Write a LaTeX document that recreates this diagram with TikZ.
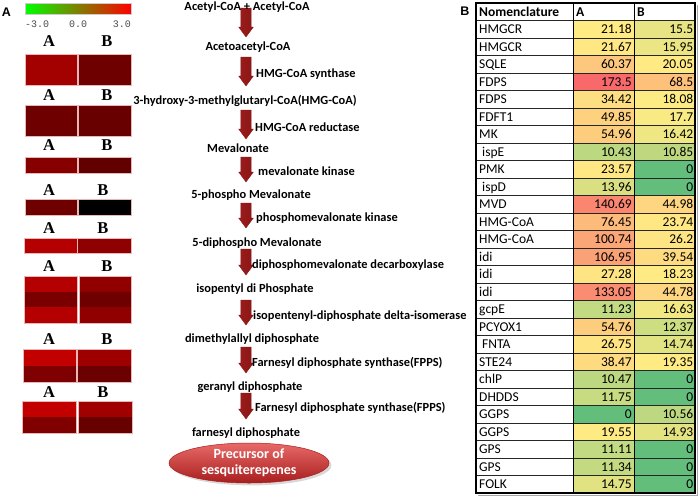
\documentclass[tikz,border=0pt]{standalone}
\usepackage{fontspec}
\setmainfont{Carlito}
\newfontfamily\tnr{Liberation Serif}
\newfontfamily\monof{Liberation Mono}
\newfontfamily\arial{Liberation Sans}
\usetikzlibrary{shapes.geometric,shadows,calc}

\definecolor{hmgrn}{HTML}{63BE7B}
\definecolor{hmyel}{HTML}{FFEB84}
\definecolor{hmred}{HTML}{F8696B}
\definecolor{arrdk}{HTML}{9C1C1C}
\definecolor{arrlt}{HTML}{D64C4A}
\definecolor{arrdk2}{HTML}{8A1616}
\definecolor{elltop}{HTML}{E86A68}
\definecolor{ellbot}{HTML}{A81E1E}
\definecolor{cellbd}{HTML}{E8B8B8}

\newcommand\heatcol[2]{%
  \pgfmathtruncatemacro\hb{#2<=18.15 ? 1 : 0}%
  \ifnum\hb=1
    \pgfmathtruncatemacro\hp{100*#2/18.15}%
    \colorlet{#1}{hmyel!\hp!hmgrn}%
  \else
    \pgfmathtruncatemacro\hp{100*(#2-18.15)/155.35}%
    \colorlet{#1}{hmred!\hp!hmyel}%
  \fi}

\newcommand\patharrow[3]{%
  \coordinate (#1t) at (246,#2);
  \coordinate (#1b) at (246,#3);
  \shade[left color=arrdk, middle color=arrlt, right color=arrdk2, draw=arrdk2, line width=0.3pt]
    ($(#1t)+(-5.2,0)$) -- ($(#1t)+(5.2,0)$) -- ($(#1b)+(5.2,-10)$) -- ($(#1b)+(7.4,-10)$)
    -- (#1b) -- ($(#1b)+(-7.4,-10)$) -- ($(#1b)+(-5.2,-10)$) -- cycle;}

\begin{document}
\begin{tikzpicture}[x=1pt,y=-1pt,
  met/.style={font=\bfseries\fontsize{12.4}{14}\selectfont, inner sep=0pt, anchor=base},
  enz/.style={font=\bfseries\fontsize{12.4}{14}\selectfont, inner sep=0pt, anchor=base west},
  hl/.style={font=\tnr\bfseries\fontsize{16.5}{18}\selectfont, inner sep=0pt},
  tcell/.style={font=\fontsize{13.5}{15}\selectfont, inner sep=0pt},
  thead/.style={font=\bfseries\fontsize{13.5}{15}\selectfont, inner sep=0pt, anchor=base west},
  hcell/.style={draw=cellbd, line width=0.6pt},
  panel/.style={font=\arial\bfseries\fontsize{12.5}{14}\selectfont, inner sep=0pt}]
\useasboundingbox (0,0) rectangle (700,498);
\fill[white] (0,0) rectangle (700,498);

% panel labels
\node[panel] (pA) at (6.5,12.5) {A};
\node[panel] (pB) at (465,11.5) {B};

% colour bar
\shade[left color={rgb,255:red,0;green,255;blue,0}, middle color=black, right color={rgb,255:red,255;green,0;blue,0}, draw=gray!40, line width=0.4pt] (25,3) rectangle (131,14);
\node[font=\monof\fontsize{10}{11}\selectfont, text=black!70, inner sep=0pt, anchor=west] (cb1) at (25,24) {-3.0};
\node[font=\monof\fontsize{10}{11}\selectfont, text=black!70, inner sep=0pt] (cb2) at (78,24) {0.0};
\node[font=\monof\fontsize{10}{11}\selectfont, text=black!70, inner sep=0pt, anchor=east] (cb3) at (131,24) {3.0};

% heat map labels
\foreach \k/\y/\bx in {1/41.5/107,2/95/107,3/145.5/107,4/190.5/103,5/228.5/103,6/266/107,7/339/107,8/392/103}{
  \node[hl] (hA\k) at (49,\y) {A};
  \node[hl] (hB\k) at (\bx,\y) {B};
}

% heat map blocks
\fill[hcell, fill={rgb,255:red,163;green,0;blue,0}] (25,54) rectangle (77,85);
\fill[hcell, fill={rgb,255:red,110;green,0;blue,0}] (78,54) rectangle (131,85);
\fill[hcell, fill={rgb,255:red,110;green,0;blue,0}] (25,105) rectangle (77,136);
\fill[hcell, fill={rgb,255:red,104;green,0;blue,0}] (78,105) rectangle (131,136);
\fill[hcell, fill={rgb,255:red,135;green,0;blue,0}] (25,157) rectangle (77,173);
\fill[hcell, fill={rgb,255:red,98;green,0;blue,0}] (78,157) rectangle (131,173);
\fill[hcell, fill={rgb,255:red,110;green,0;blue,0}] (25,199) rectangle (77,215);
\fill[hcell, fill=black] (78,199) rectangle (131,215);
\fill[hcell, fill={rgb,255:red,180;green,0;blue,0}] (24,238) rectangle (77,253);
\fill[hcell, fill={rgb,255:red,143;green,0;blue,0}] (77,238) rectangle (131,253);
% block 6
\fill[fill={rgb,255:red,180;green,0;blue,0}] (24,276) rectangle (77,292);
\fill[fill={rgb,255:red,122;green,0;blue,0}] (24,292) rectangle (77,307);
\fill[fill={rgb,255:red,180;green,0;blue,0}] (24,307) rectangle (77,323);
\fill[fill={rgb,255:red,144;green,0;blue,0}] (79,276) rectangle (131,292);
\fill[fill={rgb,255:red,110;green,0;blue,0}] (79,292) rectangle (131,307);
\fill[fill={rgb,255:red,144;green,0;blue,0}] (79,307) rectangle (131,323);
\draw[hcell] (24,276) rectangle (77,323) (79,276) rectangle (131,323);
% block 7
\fill[fill={rgb,255:red,194;green,0;blue,0}] (23,349) rectangle (76,365.5);
\fill[fill={rgb,255:red,126;green,0;blue,0}] (23,365.5) rectangle (76,382);
\fill[fill={rgb,255:red,158;green,0;blue,0}] (77,349) rectangle (131,365.5);
\fill[fill={rgb,255:red,106;green,0;blue,0}] (77,365.5) rectangle (131,382);
\draw[hcell] (23,349) rectangle (76,382) (77,349) rectangle (131,382);
% block 8
\fill[fill={rgb,255:red,194;green,0;blue,0}] (22,401) rectangle (76,417);
\fill[fill={rgb,255:red,128;green,0;blue,0}] (22,417) rectangle (76,433);
\fill[fill={rgb,255:red,160;green,0;blue,0}] (78,401) rectangle (132,417);
\fill[fill={rgb,255:red,104;green,0;blue,0}] (78,417) rectangle (132,433);
\draw[hcell] (22,401) rectangle (76,433) (78,401) rectangle (132,433);

% pathway arrows
\patharrow{a1}{8}{37}
\patharrow{a2}{57}{86}
\patharrow{a3}{110}{139}
\patharrow{a4}{157}{182}
\patharrow{a5}{203}{228}
\patharrow{a6}{249}{275}
\patharrow{a7}{300}{325}
\patharrow{a8}{347}{373}
\patharrow{a9}{393}{419}

% metabolites
\node[met] (m1) at (247,10) {Acetyl-CoA + Acetyl-CoA};
\node[met] (m2) at (248,50) {Acetoacetyl-CoA};
\node[met] (m3) at (245,104) {3-hydroxy-3-methylglutaryl-CoA(HMG-CoA)};
\node[met] (m4) at (238,152) {Mevalonate};
\node[met] (m5) at (251,198) {5-phospho Mevalonate};
\node[met] (m6) at (257,246) {5-diphospho Mevalonate};
\node[met] (m7) at (255,292) {isopentyl di Phosphate};
\node[met] (m8) at (252,342) {dimethylallyl diphosphate};
\node[met] (m9) at (250,390) {geranyl diphosphate};
\node[met] (m10) at (246,436) {farnesyl diphosphate};

% enzymes
\node[enz] (e2) at (256,77) {HMG-CoA synthase};
\node[enz] (e3) at (255,131) {HMG-CoA reductase};
\node[enz] (e4) at (258,175) {mevalonate kinase};
\node[enz] (e5) at (256,221) {phosphomevalonate kinase};
\node[enz] (e6) at (252,268) {diphosphomevalonate decarboxylase};
\node[enz] (e7) at (253,319) {isopentenyl-diphosphate delta-isomerase};
\node[enz] (e8) at (252,366) {Farnesyl diphosphate synthase(FPPS)};
\node[enz] (e9) at (255,411) {Farnesyl diphosphate synthase(FPPS)};

% precursor ellipse
\node[ellipse, minimum width=160, minimum height=40, inner sep=0pt, top color=elltop, bottom color=ellbot, draw=ellbot, line width=0.5pt, drop shadow={opacity=0.3}, text=white, align=center, font=\bfseries\fontsize{14}{16}\selectfont] (prec) at (249,463) {Precursor of\\sesquiterepenes};

% table
\foreach [count=\i] \nm/\va/\vb in {HMGCR/21.18/15.5, HMGCR/21.67/15.95, SQLE/60.37/20.05, FDPS/173.5/68.5, FDPS/34.42/18.08, FDFT1/49.85/17.7, MK/54.96/16.42, {\hspace{3pt}ispE}/10.43/10.85, PMK/23.57/0, {\hspace{3pt}ispD}/13.96/0, MVD/140.69/44.98, HMG-CoA/76.45/23.74, HMG-CoA/100.74/26.2, idi/106.95/39.54, idi/27.28/18.23, idi/133.05/44.78, gcpE/11.23/16.63, PCYOX1/54.76/12.37, {\hspace{3pt}FNTA}/26.75/14.74, STE24/38.47/19.35, chlP/10.47/0, DHDDS/11.75/0, GGPS/0/10.56, GGPS/19.55/14.93, GPS/11.11/0, GPS/11.34/0, FOLK/14.75/0}{
  \pgfmathsetmacro\yt{3+\i*17.5}
  \pgfmathsetmacro\yb{\yt+17.5}
  \pgfmathsetmacro\ybase{\yt+13.2}
  \heatcol{ca}{\va}
  \heatcol{cb}{\vb}
  \fill[ca] (573,\yt) rectangle (634,\yb);
  \fill[cb] (634,\yt) rectangle (695,\yb);
  \node[tcell, anchor=base west] (n\i) at (479,\ybase) {\nm};
  \node[tcell, anchor=base east] (va\i) at (632,\ybase) {\va};
  \node[tcell, anchor=base east] (vb\i) at (693.5,\ybase) {\vb};
}
\node[thead] (hN) at (479,16.2) {Nomenclature};
\node[thead] (hA) at (576,16.2) {A};
\node[thead] (hB) at (637,16.2) {B};
\foreach \k in {1,...,27}{
  \draw[black!85, line width=0.7pt] (476,{3+\k*17.5}) -- (695,{3+\k*17.5});
}
\draw[black, line width=0.8pt] (573,3) -- (573,493) (634,3) -- (634,493);
\draw[gray!70, line width=1pt] (478,495) -- (697,495) -- (697,5);
\draw[black, line width=1.1pt] (476,3) rectangle (695,493);
\end{tikzpicture}
\end{document}
